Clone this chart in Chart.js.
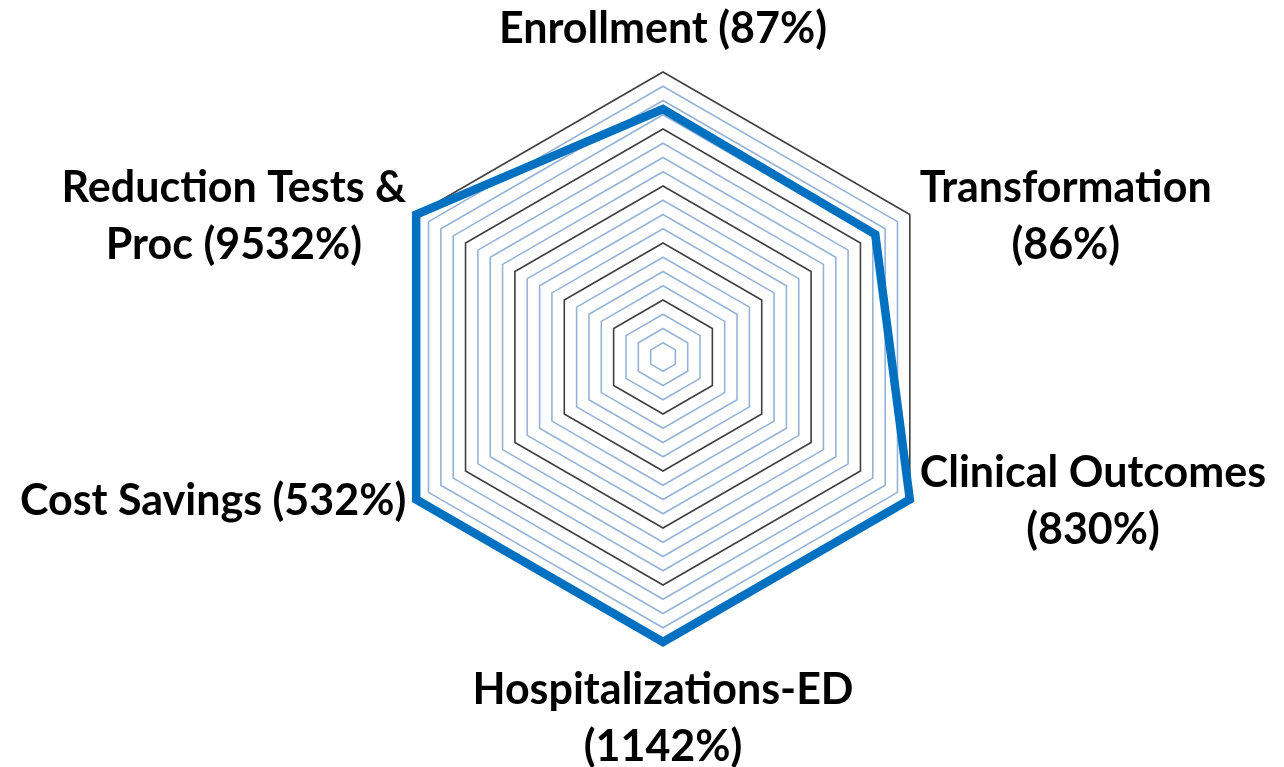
<!DOCTYPE html>
<html>
<head>
<meta charset="utf-8">
<script src="https://cdn.jsdelivr.net/npm/chart.js@4"></script>
<style>
  body { margin: 0; background: #fff; }
  #wrap { width: 1284px; height: 767px; }
</style>
</head>
<body>
<div id="wrap"><canvas id="myChart"></canvas></div>
<script>
// categories, the % shown in each label, and the plotted (capped) value
const categories = [
    ['Enrollment'],
    ['Transformation'],
    ['Clinical Outcomes'],
    ['Hospitalizations-ED'],
    ['Cost Savings'],
    ['Reduction Tests &', 'Proc']
]
const labelPercents = [87, 86, 830, 1142, 532, 9532]
const values = [87, 86, 100, 100, 100, 100]
const axisMin = 0
const axisMax = 100
const axisStep = 5

// build the label lines, percent goes on its own line or on the last line
const splitAfter = [false, true, true, true, false, false]
const labels = categories.map((lines, i) => {
    const pct = '(' + labelPercents[i] + '%)'
    const out = lines.slice()
    if (splitAfter[i]) out.push(pct)
    else out[out.length - 1] = out[out.length - 1] + ' ' + pct
    return out
})

const labelFont = 'bold 43px Lato'
const lineHeight = 57

// draws the point labels with every line centred, the way the original has them
const centeredLabels = {
    id: 'centeredLabels',
    afterDraw(chart) {
        const scale = chart.scales.r
        const ctx = chart.ctx
        ctx.save()
        ctx.font = labelFont
        ctx.fillStyle = '#000'
        ctx.textAlign = 'center'
        ctx.textBaseline = 'alphabetic'
        chart.data.labels.forEach((lines, i) => {
            const p = scale.getPointPosition(i, scale.drawingArea)
            const w = Math.max(...lines.map(l => ctx.measureText(l).width))
            const h = lines.length * lineHeight
            let cx, top
            if (Math.abs(p.x - scale.xCenter) < 2) {
                cx = p.x
                top = p.y < scale.yCenter ? p.y - 16 - h : p.y + 18
            } else {
                cx = p.x > scale.xCenter ? p.x + 10 + w / 2 : p.x - 10 - w / 2
                top = p.y - h / 2
            }
            lines.forEach((l, k) => {
                ctx.fillText(l, cx, top + k * lineHeight + 44)
            })
        })
        ctx.restore()
    }
}

const radarChart = new Chart(document.getElementById('myChart'), {
    type: 'radar',
    data: {
        labels: labels,
        datasets: [{
            data: values,
            borderColor: '#0070C0',
            borderWidth: 8.5,
            borderJoinStyle: 'miter',
            pointRadius: 0,
            fill: false
        }]
    },
    options: {
        responsive: true,
        maintainAspectRatio: false,
        animation: false,
        layout: {
            padding: { left: 378, right: 336, top: 72, bottom: 125 }
        },
        plugins: {
            legend: { display: false },
            tooltip: { enabled: false }
        },
        scales: {
            r: {
                min: axisMin,
                max: axisMax,
                ticks: { stepSize: axisStep, display: false },
                angleLines: { display: false },
                pointLabels: { display: false },
                grid: {
                    lineWidth: 1.6,
                    color: (c) => c.tick && c.tick.value % 20 === 0 ? '#404040' : '#95B3D7'
                }
            }
        }
    },
    plugins: [centeredLabels]
})
</script>
</body>
</html>
